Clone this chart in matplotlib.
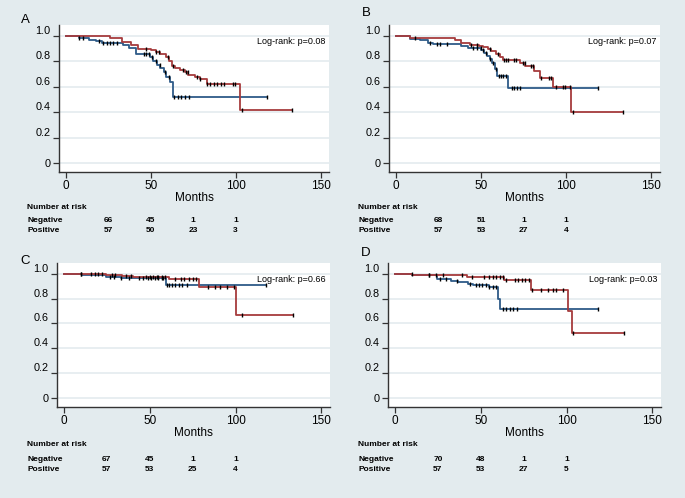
import numpy as np
import matplotlib
matplotlib.use('Agg')
import matplotlib.pyplot as plt
from matplotlib import transforms

plt.rcParams['font.family'] = ['Liberation Sans', 'DejaVu Sans']
NARROW = ['Liberation Sans Narrow', 'Liberation Sans', 'DejaVu Sans']

# survival steps (red = Positive, blue = Negative)
a_pos_t = [0, 26, 33, 38.5, 42.8, 50, 53, 55.7, 59, 60.5, 62.5, 64.5, 67.4, 70, 72.2, 76.2, 79, 83, 102.5]
a_pos_s = [1.0, 0.982, 0.95, 0.929, 0.90, 0.89, 0.87, 0.858, 0.83, 0.806, 0.766, 0.745, 0.73, 0.714, 0.695, 0.675, 0.66, 0.62, 0.42]
a_pos_cens = [47, 53, 55, 60, 63, 69, 71, 72, 77, 79, 83, 85, 87, 89, 91.5, 93, 98.6, 99.6, 104, 133.4]
a_neg_t = [0, 7.8, 13.7, 17.6, 21.5, 33.8, 37.1, 41.6, 49.4, 51.3, 53.7, 55.7, 57.6, 59.2, 61.5, 63.1]
a_neg_s = [1.0, 0.984, 0.971, 0.958, 0.945, 0.929, 0.906, 0.86, 0.83, 0.80, 0.774, 0.745, 0.714, 0.675, 0.635, 0.517]
a_neg_cens = [8, 10, 19.5, 22, 24, 26, 28, 30, 46, 47.5, 49, 51, 53, 55.5, 58.5, 61, 64, 66, 68, 70, 72.5, 118.2]

b_pos_t = [0, 8.2, 34.6, 38.5, 43.4, 49, 51.2, 54, 56, 58.6, 61, 63, 72.6, 75.6, 80.8, 84.4, 92.2, 103]
b_pos_s = [1.0, 0.986, 0.965, 0.944, 0.931, 0.92, 0.91, 0.895, 0.88, 0.856, 0.83, 0.81, 0.79, 0.765, 0.72, 0.665, 0.596, 0.398]
b_pos_cens = [11, 44, 47.5, 55, 60, 63.5, 64.5, 66, 69.5, 70.6, 74.5, 75.5, 79.5, 80.6, 85.4, 90, 91, 93.9, 98.2, 99.4, 102.2, 104, 133]
b_neg_t = [0, 8.2, 14, 19, 21.9, 38.5, 42.4, 50.2, 52, 53.6, 55, 56.6, 58, 59.4, 65.8]
b_neg_s = [1.0, 0.978, 0.965, 0.947, 0.934, 0.918, 0.905, 0.887, 0.866, 0.842, 0.814, 0.783, 0.736, 0.684, 0.588]
b_neg_cens = [20, 24, 26, 30, 45, 47.5, 50, 51, 53, 55, 57, 59, 60.5, 61.8, 63, 64.4, 68, 69.5, 71, 73, 118.5]

c_pos_t = [0, 24.3, 34, 40, 61, 78.8, 100.5]
c_pos_s = [1.0, 0.99, 0.98, 0.97, 0.955, 0.89, 0.667]
c_pos_cens = [10, 16, 18, 20, 22, 28, 30, 36, 39, 48, 50, 52, 54, 55, 57, 59, 65, 68, 70, 73, 75, 77, 84, 88, 91, 95, 99, 104, 133.3]
c_neg_t = [0, 10.7, 24.3, 33, 59.4]
c_neg_s = [1.0, 0.99, 0.975, 0.963, 0.908]
c_neg_cens = [10, 27, 29, 33, 38, 44, 46, 49, 51, 53, 55, 57, 58, 60, 61, 63, 65, 67, 69, 72, 117.7]

d_pos_t = [0, 10.2, 42, 63.5, 79.5, 101, 103]
d_pos_s = [1.0, 0.99, 0.975, 0.95, 0.865, 0.70, 0.52]
d_pos_cens = [10, 20, 24, 28, 39, 45, 52, 55, 57, 59, 61, 63, 65, 70, 72, 74, 76, 78, 80, 85, 89, 92, 94, 98, 103.5, 133.2]
d_neg_t = [0, 10.2, 20, 24.8, 32.6, 36.5, 42.4, 45.3, 55, 60, 61.3]
d_neg_s = [1.0, 0.99, 0.985, 0.958, 0.944, 0.931, 0.918, 0.905, 0.89, 0.80, 0.72]
d_neg_cens = [20, 26, 30, 36, 44, 47, 49, 51, 53, 55, 57, 59, 63, 65, 67, 69, 71, 118.5]

risk_times = [25, 50, 75, 100]
a_risk_neg = [66, 45, 1, 1]
a_risk_pos = [57, 50, 23, 3]
b_risk_neg = [68, 51, 1, 1]
b_risk_pos = [57, 53, 27, 4]
c_risk_neg = [67, 45, 1, 1]
c_risk_pos = [57, 53, 25, 4]
d_risk_neg = [70, 48, 1, 1]
d_risk_pos = [57, 53, 27, 5]

p_values = ['0.08', '0.07', '0.66', '0.03']
letters = ['A', 'B', 'C', 'D']

BG = '#e3ebee'
RED = '#a63b3d'
BLUE = '#2e5b88'

W, H = 685, 498
fig = plt.figure(figsize=(6.85, 4.98), dpi=100, facecolor=BG)


def px(x, y):
    return x / W, 1 - y / H


def km(ax, t, s, cens, color):
    end = cens[-1]
    tt = list(t) + [end]
    ss = list(s) + [s[-1]]
    ax.step(tt, ss, where='post', color=color, lw=1.3, zorder=3)
    t_arr = np.array(t)
    s_arr = np.array(s)
    idx = np.searchsorted(t_arr, cens, side='right') - 1
    ax.plot(cens, s_arr[idx], ls='none', marker='|', ms=3.5, mew=1.0,
            color='black', zorder=4)


panels = [
    # axes box in pixels (left, top, right, bottom), data, table rows y
    ((59, 25, 329, 172), a_pos_t, a_pos_s, a_pos_cens, a_neg_t, a_neg_s, a_neg_cens,
     a_risk_neg, a_risk_pos, (25, 20), (27, 207, 221, 230)),
    ((389, 25, 660, 172), b_pos_t, b_pos_s, b_pos_cens, b_neg_t, b_neg_s, b_neg_cens,
     b_risk_neg, b_risk_pos, (366, 13), (358, 207, 221, 230)),
    ((57, 263, 330, 407), c_pos_t, c_pos_s, c_pos_cens, c_neg_t, c_neg_s, c_neg_cens,
     c_risk_neg, c_risk_pos, (25, 261), (27, 444, 459, 469)),
    ((388, 263, 661, 407), d_pos_t, d_pos_s, d_pos_cens, d_neg_t, d_neg_s, d_neg_cens,
     d_risk_neg, d_risk_pos, (366, 253), (358, 444, 459, 469)),
]

for i, (box, pt, ps, pc, nt, ns, nc, rneg, rpos, lpos, tpos) in enumerate(panels):
    l, t, r, b = box
    ax = fig.add_axes([l / W, 1 - b / H, (r - l) / W, (b - t) / H])
    ax.set_facecolor('white')
    ax.set_xlim(-4, 155)
    ax.set_ylim(-0.07, 1.085)
    for sp in ['top', 'right']:
        ax.spines[sp].set_visible(False)
    for sp in ['left', 'bottom']:
        ax.spines[sp].set_color('#333333')
        ax.spines[sp].set_linewidth(1.0)
    ax.set_yticks([0, 0.2, 0.4, 0.6, 0.8, 1.0])
    ax.set_yticklabels(['0', '0.2', '0.4', '0.6', '0.8', '1.0'])
    ax.set_xticks([0, 50, 100, 150])
    ax.tick_params(length=4, width=0.9, color='#333333', pad=2)
    ax.tick_params(axis='y', labelsize=7.8)
    ax.tick_params(axis='x', labelsize=8.5)
    for lab in ax.get_yticklabels()[1:]:
        lab.set_va('bottom')
    ax.grid(axis='y', color='#e6edf0', lw=1.3)
    ax.set_axisbelow(True)
    ax.set_xlabel('Months', fontsize=8.5, labelpad=0)

    km(ax, nt, ns, nc, BLUE)
    km(ax, pt, ps, pc, RED)

    ax.text(0.985, 0.885, 'Log-rank: p=' + p_values[i], transform=ax.transAxes,
            ha='right', va='center', fontsize=6.5, family=NARROW)

    fig.text(*px(*lpos), letters[i], fontsize=9.5, ha='center', va='center')

    tx, ty0, ty1, ty2 = tpos
    for yy, label in [(ty0, 'Number at risk'), (ty1, 'Negative'), (ty2, 'Positive')]:
        fig.text(*px(tx, yy), label, fontsize=6, fontweight='bold', family=NARROW,
                 ha='left', va='center')
    tr = transforms.blended_transform_factory(ax.transData, fig.transFigure)
    for x, n1, n2 in zip(risk_times, rneg, rpos):
        ax.text(x, 1 - ty1 / H, str(n1), transform=tr, fontsize=6, family=NARROW,
                fontweight='bold', ha='center', va='center', clip_on=False)
        ax.text(x, 1 - ty2 / H, str(n2), transform=tr, fontsize=6, family=NARROW,
                fontweight='bold', ha='center', va='center', clip_on=False)

fig.savefig('out.png', dpi=100, facecolor=BG)
